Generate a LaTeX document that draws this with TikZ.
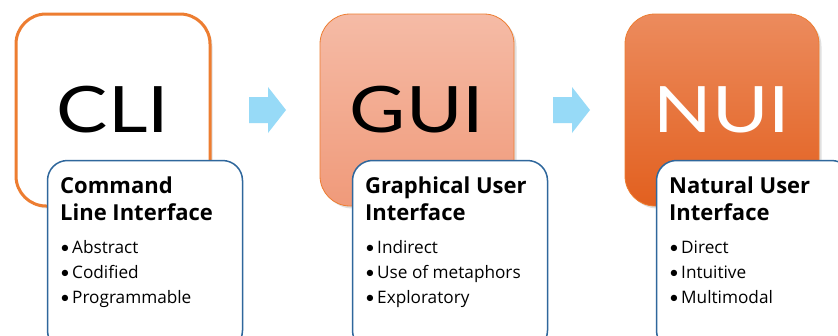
\documentclass[tikz,border=0pt]{standalone}
\usepackage{fontspec}
\setmainfont{Lato}
\newfontfamily\cardfont{Open Sans}
\usetikzlibrary{shadows}

\definecolor{tileorange}{HTML}{ED7D31}
\definecolor{guitop}{HTML}{F5BBA6}
\definecolor{guibot}{HTML}{F09A7A}
\definecolor{nuitop}{HTML}{EC8B5D}
\definecolor{nuimid}{HTML}{F07030}
\definecolor{nuibot}{HTML}{E2601F}
\definecolor{cardblue}{HTML}{2F679C}
\definecolor{arrowblue}{HTML}{97DAF7}

\tikzset{
  tile/.style={rectangle, rounded corners=30pt, minimum width=194pt,
    minimum height=192pt, inner sep=0pt,
    general shadow={shadow xshift=2.5pt, shadow yshift=-2.5pt,
      fill=black, opacity=0.12}},
  tiletext/.style={font=\fontsize{64}{64}\selectfont, xscale=1.2},
  card/.style={rectangle, rounded corners=20pt, draw=cardblue,
    line width=1.5pt, fill=white, minimum width=195pt,
    minimum height=190pt, anchor=north west, inner sep=0pt},
  head/.style={anchor=base west, inner sep=0pt,
    font=\cardfont\fontsize{22}{22}\bfseries\selectfont},
  item/.style={anchor=base west, inner sep=0pt,
    font=\cardfont\fontsize{17.2}{17}\selectfont},
  blockarrow/.style={fill=arrowblue},
}
\newcommand{\itm}[1]{\makebox[12pt][l]{\rmfamily\fontsize{17}{17}\selectfont •}#1}

\begin{document}
\begin{tikzpicture}[x=1pt,y=-1pt]
\clip (0,0) rectangle (838,335);
\fill[white] (0,0) rectangle (838,335);

% three interface tiles
\node[tile, draw=tileorange, line width=3pt, fill=white] (cli) at (113,110) {};
\node[tile, draw=tileorange, line width=0.8pt, top color=guitop, bottom color=guibot] (gui) at (417,110) {};
\node[tile, draw=tileorange, line width=0.8pt, top color=nuitop, middle color=nuimid, bottom color=nuibot] (nui) at (722,110) {};

\node[tiletext, text=black] (clit) at (cli.center) {CLI};
\node[tiletext, text=black] (guit) at (gui.center) {GUI};
\node[tiletext, text=white] (nuit) at (nui.center) {NUI};

% block arrows between tiles
\coordinate (a1) at (249,110);
\coordinate (a2) at (553,110);
\foreach \a in {a1,a2}{
  \fill[blockarrow] (\a) ++(0,-13) -- ++(19,0) -- ++(0,-10) -- ++(18,23)
    -- ++(-18,23) -- ++(0,-10) -- ++(-19,0) -- cycle;
}

% description cards
\node[card] (c1) at (46.75,159.75) {};
\node[card] (c2) at (351.75,159.75) {};
\node[card] (c3) at (655.75,159.75) {};

\node[head] (h1a) at (60,193) {Command};
\node[head] (h1b) at (60,220) {Line Interface};
\node[item] (i1a) at (60,253) {\itm{Abstract}};
\node[item] (i1b) at (60,278) {\itm{Codified}};
\node[item] (i1c) at (60,303) {\itm{Programmable}};

\node[head] (h2a) at (365,193) {Graphical User};
\node[head] (h2b) at (365,220) {Interface};
\node[item] (i2a) at (365,253) {\itm{Indirect}};
\node[item] (i2b) at (365,278) {\itm{Use of metaphors}};
\node[item] (i2c) at (365,303) {\itm{Exploratory}};

\node[head] (h3a) at (669,193) {Natural User};
\node[head] (h3b) at (669,220) {Interface};
\node[item] (i3a) at (669,253) {\itm{Direct}};
\node[item] (i3b) at (669,278) {\itm{Intuitive}};
\node[item] (i3c) at (669,303) {\itm{Multimodal}};
\end{tikzpicture}
\end{document}
